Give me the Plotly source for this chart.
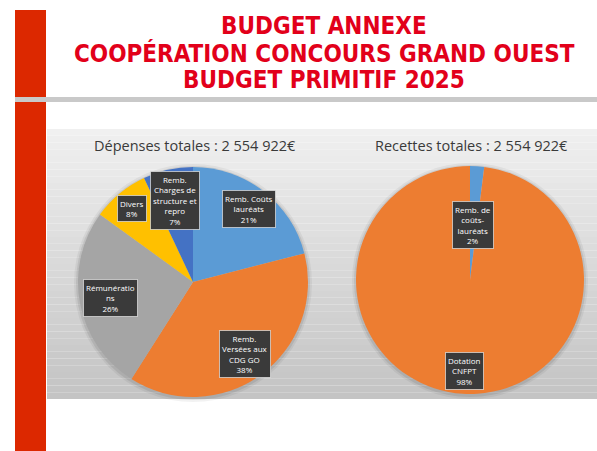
import plotly.graph_objects as go
import math

W, H = 597, 451

# --- data -------------------------------------------------------------
dep_categories = ["Remb. Coûts lauréats", "Remb. Versées aux CDG GO", "Rémunérations",
                  "Divers", "Remb. Charges de structure et repro"]
dep_labels = ["Remb. Coûts<br>lauréats", "Remb.<br>Versées aux<br>CDG GO", "Rémunératio<br>ns",
              "Divers", "Remb.<br>Charges de<br>structure et<br>repro"]
dep_values = [21, 38, 26, 8, 7]

rec_categories = ["Remb. de coûts-lauréats", "Dotation CNFPT"]
rec_labels = ["Remb. de<br>coûts-<br>lauréats", "Dotation<br>CNFPT"]
rec_values = [2, 98]

title_lines = ["BUDGET ANNEXE", "COOPÉRATION CONCOURS GRAND OUEST", "BUDGET PRIMITIF 2025"]
dep_title = "Dépenses totales : 2 554 922€"
rec_title = "Recettes totales : 2 554 922€"

# --- styling ------------------------------------------------------------
dep_colors = ["#5B9BD5", "#ED7D31", "#A5A5A5", "#FFC000", "#4472C4"]
rec_colors = ["#5B9BD5", "#ED7D31"]
dep_label_r = [0.80, 0.77, 0.73, 0.83, 0.73]
rec_label_r = [0.48, 0.80]


def px(x):
    return x / W


def py(y):
    return 1 - y / H


# pie geometry in pixels: centre and radius
L_CX, L_CY, L_R = 193, 282, 115
R_CX, R_CY, R_R = 470, 280, 114

fig = go.Figure()


def add_pie(cats, vals, cols, cx, cy, r):
    fig.add_trace(go.Pie(
        labels=cats, values=vals, sort=False, direction="clockwise", rotation=0,
        marker=dict(colors=cols, line=dict(width=0)),
        textinfo="none", hoverinfo="label+percent", showlegend=False,
        domain=dict(x=[px(cx - r), px(cx + r)], y=[py(cy + r), py(cy - r)]),
    ))


add_pie(dep_categories, dep_values, dep_colors, L_CX, L_CY, L_R)
add_pie(rec_categories, rec_values, rec_colors, R_CX, R_CY, R_R)

shapes = []
# slide background panels with a vertical gradient
n_bands = 40
top, bot = 129, 399
for i in range(n_bands):
    t = i / (n_bands - 1)
    c = int(240 - t * (240 - 196))
    y0 = top + (bot - top) * i / n_bands
    y1 = top + (bot - top) * (i + 1) / n_bands
    shapes.append(dict(type="rect", xref="paper", yref="paper", layer="below",
                       x0=px(47), x1=px(597), y0=py(y1), y1=py(y0),
                       fillcolor=f"rgb({c},{c},{c})", line=dict(width=0)))

# soft shadow under each pie
for cx, cy, r in [(L_CX, L_CY, L_R), (R_CX, R_CY, R_R)]:
    for k, a in [(4, 0.05), (2, 0.08)]:
        shapes.append(dict(type="circle", xref="paper", yref="paper", layer="below",
                           x0=px(cx - r - k), x1=px(cx + r + k),
                           y0=py(cy + r + k + 1), y1=py(cy - r - k + 1),
                           fillcolor=f"rgba(0,0,0,{a})", line=dict(width=0)))

# red vertical band and grey rule
shapes.append(dict(type="rect", xref="paper", yref="paper", x0=px(15), x1=px(46),
                   y0=py(451), y1=py(10), fillcolor="#DC2800", line=dict(width=0), layer="below"))
shapes.append(dict(type="rect", xref="paper", yref="paper", x0=px(15), x1=px(597),
                   y0=py(102), y1=py(97), fillcolor="#C9C9C9", line=dict(width=0), layer="below"))

annotations = []
title_y = [26, 53, 80]
for txt, yy in zip(title_lines, title_y):
    annotations.append(dict(text=txt, x=px(324), y=py(yy), xref="paper", yref="paper",
                            xanchor="center", yanchor="middle", showarrow=False,
                            font=dict(family="DejaVu Sans Condensed, DejaVu Sans", size=24,
                                      color="#E2001A", weight="bold")))

for txt, cx in [(dep_title, 195), (rec_title, 471)]:
    annotations.append(dict(text=txt, x=px(cx), y=py(145), xref="paper", yref="paper",
                            xanchor="center", yanchor="middle", showarrow=False,
                            font=dict(family="Open Sans", size=14.5, color="#3A3A3A")))


def add_labels(labels, vals, radii, cx, cy, r):
    total = sum(vals)
    acc = 0
    for lab, v, f in zip(labels, vals, radii):
        mid = (acc + v / 2) / total * 2 * math.pi
        acc += v
        x = cx + f * r * math.sin(mid)
        y = cy - f * r * math.cos(mid)
        pct = round(v / total * 100)
        annotations.append(dict(text=f"{lab}<br>{pct}%", x=px(x), y=py(y),
                                xref="paper", yref="paper", xanchor="center", yanchor="middle",
                                showarrow=False, align="center",
                                font=dict(family="Open Sans", size=8, color="white"),
                                bgcolor="#3A3A3A", bordercolor="rgba(230,230,230,0.7)",
                                borderwidth=1, borderpad=2))


add_labels(dep_labels, dep_values, dep_label_r, L_CX, L_CY, L_R)
add_labels(rec_labels, rec_values, rec_label_r, R_CX, R_CY, R_R)

fig.update_layout(width=W, height=H, margin=dict(l=0, r=0, t=0, b=0),
                  paper_bgcolor="white", plot_bgcolor="white",
                  shapes=shapes, annotations=annotations)

fig.write_html("out.html")
